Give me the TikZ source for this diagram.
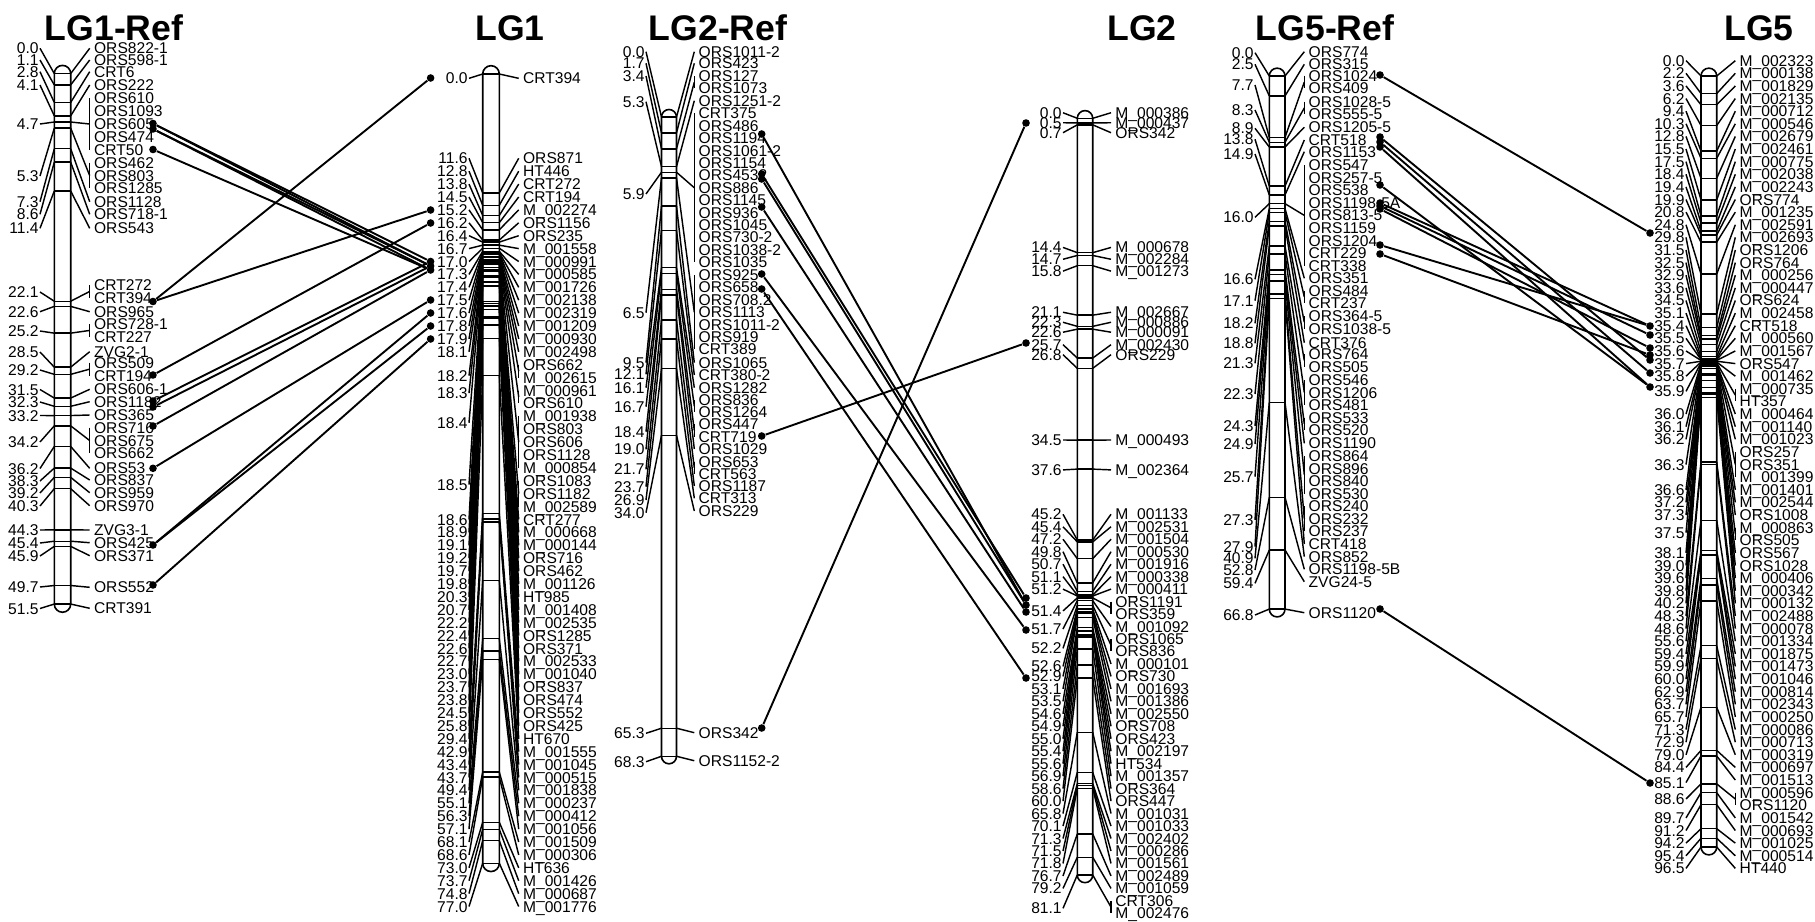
\documentclass[tikz,border=0pt]{standalone}
\usepackage{fontspec}
\setmainfont{Liberation Sans}
\newcount\gc
\newcommand\setchr[9]{\def\cpre{#1}\def\cxL{#2}\def\cxR{#3}\def\cyz{#4}\def\csc{#5}\def\cxN{#6}\def\cxM{#7}\def\cmax{#8}\def\cpitch{#9}}
\newcommand\chrbar{%
  \pgfmathsetmacro\rpx{(\cxR-\cxL)/2}%
  \pgfmathsetmacro\rpt{\rpx*0.5}%
  \pgfmathsetmacro\ytop{\cyz-\rpx}%
  \pgfmathsetmacro\ybot{\cyz+\cmax*\csc+\rpx}%
  \draw[chr,rounded corners=\rpt pt] (\cxL,\ytop) rectangle (\cxR,\ybot);}
\newcommand\grp[4]{%
  \global\advance\gc by 1
  \pgfmathsetmacro\cby{\cyz+#1*\csc}%
  \pgfmathsetmacro\cny{\rowz+(#2)*\rows}%
  \pgfmathsetmacro\cfy{\rowz+(#3)*\rows}%
  \draw[band] (\cxL,\cby) -- (\cxR,\cby);
  \node[num] (\cpre-n\the\gc) at (\cxN,\cny) {#1};
  \draw[con] (\cpre-n\the\gc.east) -- (\cxL,\cby);
  \foreach \nm [count=\k] in {#4} {%
    \pgfmathsetmacro\cyy{\cfy+(\k-1)*\cpitch}%
    \node[nam] (\cpre-m\the\gc-\k) at (\cxM,\cyy) {\nm};
    \xdef\lastk{\k}}%
  \pgfmathsetmacro\cly{\cfy+(\lastk-1)*\cpitch}%
  \pgfmathsetmacro\cmy{(\cfy+\cly)/2}%
  \draw[con] (\cxR,\cby) -- (\cxM-3,\cmy);
  \ifnum\lastk>1 \draw[con] (\cxM-3,\cfy) -- (\cxM-3,\cly);\fi}
\begin{document}
\begin{tikzpicture}[x=0.5pt,y=-0.5pt,
  chr/.style={draw,line width=0.8pt,fill=white},
  band/.style={line width=0.7pt},
  con/.style={line width=0.72pt},
  link/.style={line width=0.95pt},
  num/.style={anchor=east,inner sep=0.5pt,text height=5.5pt,text depth=0pt,font=\fontsize{7.8}{8}\selectfont},
  nam/.style={anchor=west,inner sep=0.5pt,text height=5.5pt,text depth=0pt,font=\fontsize{7.8}{8}\selectfont},
  ttl/.style={anchor=base,inner sep=0pt,font=\fontsize{17.8}{20}\selectfont\bfseries},
  dot/.style={circle,fill,inner sep=0pt,minimum size=3.8pt}]
\useasboundingbox[fill=white] (0,0) rectangle (1815,921);
% titles
\node[ttl] (t1) at (114,40) {LG1-Ref};
\node[ttl] (t2) at (510,40) {LG1};
\node[ttl] (t3) at (718,40) {LG2-Ref};
\node[ttl] (t4) at (1142,40) {LG2};
\node[ttl] (t5) at (1325,40) {LG5-Ref};
\node[ttl] (t6) at (1759,40) {LG5};
% ---------------- LG1-Ref
\setchr{A}{54.3}{70.7}{73.6}{10.30}{40}{92.7}{51.5}{12.86}
\def\rowz{0}\def\rows{1}
\chrbar
\grp{0.0}{48.3}{48.3}{ORS822-1}
\grp{1.1}{60}{60}{ORS598-1}
\grp{2.8}{71.7}{71.7}{CRT6}
\grp{4.1}{85}{85}{ORS222}
\grp{4.7}{124}{98.3}{ORS610,ORS1093,ORS605,ORS474,CRT50}
\grp{5.3}{176}{162.7}{ORS462,ORS803,ORS1285}
\grp{7.3}{201.7}{201.7}{ORS1128}
\grp{8.6}{214.3}{214.3}{ORS718-1}
\grp{11.4}{228.3}{228.3}{ORS543}
\grp{22.1}{292}{285}{CRT272,CRT394}
\grp{22.6}{311.7}{311.7}{ORS965}
\grp{25.2}{331}{324}{ORS728-1,CRT227}
\grp{28.5}{352}{351.7}{ZVG2-1}
\grp{29.2}{370}{362.7}{ORS509,CRT194}
\grp{31.5}{389.5}{389.3}{ORS606-1}
\grp{32.3}{402}{401.7}{ORS1182}
\grp{33.2}{415.5}{415}{ORS365}
\grp{34.2}{442}{427.7}{ORS716,ORS675,ORS662}
\grp{36.2}{468.5}{468.3}{ORS53}
\grp{38.3}{481}{480}{ORS837}
\grp{39.2}{493}{492.7}{ORS959}
\grp{40.3}{506}{505.7}{ORS970}
\grp{44.3}{530}{530}{ZVG3-1}
\grp{45.4}{543}{542.7}{ORS425}
\grp{45.9}{556}{555.7}{ORS371}
\grp{49.7}{587}{587.3}{ORS552}
\grp{51.5}{608.5}{608.3}{CRT391}
% ---------------- LG1
\setchr{B}{482.7}{499.3}{74}{10.25}{469}{521.7}{77.0}{12.9}
\def\rowz{158.3}\def\rows{12.9}
\chrbar
\grp{0.0}{-6.2}{-6.2}{CRT394}
\grp{11.6}{0}{0}{ORS871}
\grp{12.8}{1}{1}{HT446}
\grp{13.8}{2}{2}{CRT272}
\grp{14.5}{3}{3}{CRT194}
\grp{15.2}{4}{4}{M\_002274}
\grp{16.2}{5}{5}{ORS1156}
\grp{16.4}{6}{6}{ORS235}
\grp{16.7}{7}{7}{M\_001558}
\grp{17.0}{8}{8}{M\_000991}
\grp{17.3}{9}{9}{M\_000585}
\grp{17.4}{10}{10}{M\_001726}
\grp{17.5}{11}{11}{M\_002138}
\grp{17.6}{12}{12}{M\_002319}
\grp{17.8}{13}{13}{M\_001209}
\grp{17.9}{14}{14}{M\_000930}
\grp{18.1}{15}{15}{M\_002498}
\grp{18.2}{16.85}{16}{ORS662,M\_002615}
\grp{18.3}{18.2}{18}{M\_000961,ORS610}
\grp{18.4}{20.5}{20}{M\_001938,ORS803,ORS606,ORS1128,M\_000854}
\grp{18.5}{25.3}{25}{ORS1083,ORS1182,M\_002589}
\grp{18.6}{28}{28}{CRT277}
\grp{18.9}{29}{29}{M\_000668}
\grp{19.1}{30}{30}{M\_000144}
\grp{19.2}{31}{31}{ORS716}
\grp{19.7}{32}{32}{ORS462}
\grp{19.8}{33}{33}{M\_001126}
\grp{20.3}{34}{34}{HT985}
\grp{20.7}{35}{35}{M\_001408}
\grp{22.2}{36}{36}{M\_002535}
\grp{22.4}{37}{37}{ORS1285}
\grp{22.6}{38}{38}{ORS371}
\grp{22.7}{39}{39}{M\_002533}
\grp{23.0}{40}{40}{M\_001040}
\grp{23.7}{41}{41}{ORS837}
\grp{23.8}{42}{42}{ORS474}
\grp{24.5}{43}{43}{ORS552}
\grp{25.8}{44}{44}{ORS425}
\grp{29.4}{45}{45}{HT670}
\grp{42.9}{46}{46}{M\_001555}
\grp{43.4}{47}{47}{M\_001045}
\grp{43.7}{48}{48}{M\_000515}
\grp{49.4}{49}{49}{M\_001838}
\grp{55.1}{50}{50}{M\_000237}
\grp{56.3}{51}{51}{M\_000412}
\grp{57.1}{52}{52}{M\_001056}
\grp{68.1}{53}{53}{M\_001509}
\grp{68.6}{54}{54}{M\_000306}
\grp{73.0}{55}{55}{HT636}
\grp{73.7}{56}{56}{M\_001426}
\grp{74.8}{57}{57}{M\_000687}
\grp{77.0}{58}{58}{M\_001776}
% ---------------- LG2-Ref
\setchr{C}{661.5}{676.5}{117}{9.36}{646}{697.3}{68.3}{12.41}
\def\rowz{0}\def\rows{1}
\chrbar
\grp{0.0}{51.7}{51.7}{ORS1011-2}
\grp{1.7}{63.3}{63.3}{ORS423}
\grp{3.4}{76}{76}{ORS127,ORS1073}
\grp{5.3}{101.7}{100.7}{ORS1251-2}
\grp{5.9}{194}{113.3}{CRT375,ORS486,ORS1194,ORS1061-2,ORS1154,ORS4532,ORS886,ORS1145,ORS936,ORS1045,ORS730-2,ORS1038-2,ORS1035}
\grp{6.5}{312.7}{275}{ORS925,ORS658,ORS708.2,ORS1113,ORS1011-2,ORS919,CRT389}
\grp{9.5}{362.7}{362.7}{ORS1065}
\grp{12.1}{374.3}{375}{CRT380-2}
\grp{16.1}{387.7}{387.7}{ORS1282}
\grp{16.7}{406.7}{400}{ORS836,ORS1264}
\grp{18.4}{431.7}{424.3}{ORS447,CRT719}
\grp{19.0}{449.3}{449}{ORS1029}
\grp{21.7}{469.3}{461.7}{ORS653,CRT563}
\grp{23.7}{486.7}{486}{ORS1187}
\grp{26.9}{500}{498.3}{CRT313}
\grp{34.0}{512.7}{511}{ORS229}
\grp{65.3}{733.3}{732.7}{ORS342}
\grp{68.3}{761.7}{760.7}{ORS1152-2}
% ---------------- LG2
\setchr{D}{1077.3}{1092.7}{118.3}{9.33}{1063}{1114}{81.1}{12.47}
\def\rowz{551.7}\def\rows{12.47}
\chrbar
\grp{0.0}{-35.2}{-35.2}{M\_000386}
\grp{0.5}{-34.4}{-34.4}{M\_000437}
\grp{0.7}{-33.6}{-33.6}{ORS342}
\grp{14.4}{-24.4}{-24.4}{M\_000678}
\grp{14.7}{-23.45}{-23.45}{M\_002284}
\grp{15.8}{-22.5}{-22.5}{M\_001273}
\grp{21.1}{-19.2}{-19.2}{M\_002667}
\grp{22.3}{-18.4}{-18.4}{M\_000886}
\grp{22.6}{-17.6}{-17.6}{M\_000091}
\grp{25.7}{-16.6}{-16.6}{M\_002430}
\grp{26.8}{-15.8}{-15.8}{ORS229}
\grp{34.5}{-8.96}{-8.96}{M\_000493}
\grp{37.6}{-6.56}{-6.56}{M\_002364}
\grp{45.2}{-3}{-3}{M\_001133}
\grp{45.4}{-2}{-2}{M\_002531}
\grp{47.2}{-1}{-1}{M\_001504}
\grp{49.8}{0}{0}{M\_000530}
\grp{50.7}{1}{1}{M\_001916}
\grp{51.1}{2}{2}{M\_000338}
\grp{51.2}{3}{3}{M\_000411}
\grp{51.4}{4.75}{4}{ORS1191,ORS359}
\grp{51.7}{6.2}{6}{M\_001092}
\grp{52.2}{7.75}{7}{ORS1065,ORS836}
\grp{52.6}{9.2}{9}{M\_000101}
\grp{52.9}{10}{10}{ORS730}
\grp{53.1}{11}{11}{M\_001693}
\grp{53.5}{12}{12}{M\_001386}
\grp{54.6}{13}{13}{M\_002550}
\grp{54.9}{14}{14}{ORS708}
\grp{55.0}{15}{15}{ORS423}
\grp{55.4}{16}{16}{M\_002197}
\grp{55.6}{17}{17}{HT534}
\grp{56.9}{18}{18}{M\_001357}
\grp{58.6}{19}{19}{ORS364}
\grp{60.0}{20}{20}{ORS447}
\grp{65.8}{21}{21}{M\_001031}
\grp{70.1}{22}{22}{M\_001033}
\grp{71.3}{23}{23}{M\_002402}
\grp{71.5}{24}{24}{M\_000286}
\grp{71.8}{25}{25}{M\_001561}
\grp{76.7}{26}{26}{M\_002489}
\grp{79.2}{27}{27}{M\_001059}
\grp{81.1}{28.6}{28}{CRT306,M\_002476}
% ---------------- LG5-Ref
\setchr{E}{1269.3}{1285}{76}{7.98}{1255}{1307.3}{66.8}{12.6}
\def\rowz{0}\def\rows{1}
\chrbar
\grp{0.0}{52.7}{51.7}{ORS774}
\grp{2.5}{64.3}{64.3}{ORS315}
\grp{7.7}{85}{75.7}{ORS1024,ORS409}
\grp{8.3}{110}{101.7}{ORS1028-5,ORS555-5}
\grp{8.9}{128.3}{127.3}{ORS1205-5}
\grp{13.8}{139.3}{140}{CRT518}
\grp{14.9}{154}{151.7}{ORS1153}
\grp{16.0}{217.3}{165}{ORS547,ORS257-5,ORS538,ORS1198-5A,ORS813-5,ORS1159,ORS1204,CRT229,CRT338}
\grp{16.6}{279.3}{278.3}{ORS351}
\grp{17.1}{300.7}{290.7}{ORS484,CRT237}
\grp{18.2}{323.3}{316}{ORS364-5,ORS1038-5}
\grp{18.8}{343.3}{342.7}{CRT376}
\grp{21.3}{363.3}{354.3}{ORS764,ORS505}
\grp{22.3}{394}{380}{ORS546,ORS1206,ORS481}
\grp{24.3}{426}{417.7}{ORS533,ORS520}
\grp{24.9}{444}{443.3}{ORS1190}
\grp{25.7}{476.7}{456}{ORS864,ORS896,ORS840,ORS530}
\grp{27.3}{520}{506}{ORS240,ORS232,ORS237}
\grp{27.9}{546.7}{544}{CRT418}
\grp{40.9}{558.3}{556.7}{ORS852}
\grp{52.8}{570}{569.3}{ORS1198-5B}
\grp{59.4}{583.3}{581.7}{ZVG24-5}
\grp{66.8}{615}{612.7}{ORS1120}
% ---------------- LG5
\setchr{F}{1701}{1716.7}{76}{7.99}{1686}{1738.3}{96.5}{12.62}
\def\rowz{60.7}\def\rows{12.62}
\chrbar
\grp{0.0}{0}{0}{M\_002323}
\grp{2.2}{1}{1}{M\_000138}
\grp{3.6}{2}{2}{M\_001829}
\grp{6.2}{3}{3}{M\_002135}
\grp{9.4}{4}{4}{M\_000712}
\grp{10.3}{5}{5}{M\_000546}
\grp{12.8}{6}{6}{M\_002679}
\grp{15.5}{7}{7}{M\_002461}
\grp{17.5}{8}{8}{M\_000775}
\grp{18.4}{9}{9}{M\_002038}
\grp{19.4}{10}{10}{M\_002243}
\grp{19.9}{11}{11}{ORS774}
\grp{20.8}{12}{12}{M\_001235}
\grp{24.8}{13}{13}{M\_002591}
\grp{29.8}{14}{14}{M\_002693}
\grp{31.5}{15}{15}{ORS1206}
\grp{32.5}{16}{16}{ORS764}
\grp{32.9}{17}{17}{M\_000256}
\grp{33.6}{18}{18}{M\_000447}
\grp{34.5}{19}{19}{ORS624}
\grp{35.1}{20}{20}{M\_002458}
\grp{35.4}{21}{21}{CRT518}
\grp{35.5}{22}{22}{M\_000560}
\grp{35.6}{23}{23}{M\_001567}
\grp{35.7}{24}{24}{ORS547}
\grp{35.8}{25}{25}{M\_001462}
\grp{35.9}{26.2}{26}{M\_000735,HT357}
\grp{36.0}{28}{28}{M\_000464}
\grp{36.1}{29}{29}{M\_001140}
\grp{36.2}{30}{30}{M\_001023}
\grp{36.3}{32}{31}{ORS257,ORS351,M\_001399}
\grp{36.6}{34}{34}{M\_001401}
\grp{37.2}{35}{35}{M\_002544}
\grp{37.3}{36}{36}{ORS1008}
\grp{37.5}{37.4}{37}{M\_000863,ORS505}
\grp{38.1}{39}{39}{ORS567}
\grp{39.0}{40}{40}{ORS1028}
\grp{39.6}{41}{41}{M\_000406}
\grp{39.8}{42}{42}{M\_000342}
\grp{40.2}{43}{43}{M\_000132}
\grp{48.3}{44}{44}{M\_002488}
\grp{48.6}{45}{45}{M\_000078}
\grp{55.6}{46}{46}{M\_001334}
\grp{59.4}{47}{47}{M\_001875}
\grp{59.9}{48}{48}{M\_001473}
\grp{60.0}{49}{49}{M\_001046}
\grp{62.9}{50}{50}{M\_000814}
\grp{63.7}{51}{51}{M\_002343}
\grp{65.7}{52}{52}{M\_000250}
\grp{71.3}{53}{53}{M\_000086}
\grp{72.9}{54}{54}{M\_000713}
\grp{79.0}{55}{55}{M\_000319}
\grp{84.4}{56}{56}{M\_000697}
\grp{85.1}{57.2}{57}{M\_001513}
\grp{88.6}{58.5}{58}{M\_000596,ORS1120}
\grp{89.7}{60}{60}{M\_001542}
\grp{91.2}{61}{61}{M\_000693}
\grp{94.2}{62}{62}{M\_001025}
\grp{95.4}{63}{63}{M\_000514}
\grp{96.5}{64}{64}{HT440}
% ---------------- connection dots
\foreach \n/\y in {a1/123.5,a2/129,a3/149.5,a4/301.5,a5/375,a6/401,a7/407,a8/426,a9/468.3,a10/545,a11/585}
  \node[dot] (\n) at (153,\y) {};
\foreach \n/\y in {b0/78,b1/210,b2/223,b3/261.5,b4/266,b5/270,b6/300,b7/313,b8/326,b9/339}
  \node[dot] (\n) at (430.6,\y) {};
\foreach \n/\y in {f1/134,f2/174,f3/179,f4/207,f5/274,f6/289,f7/436,f8/728}
  \node[dot] (\n) at (761.7,\y) {};
\foreach \n/\y in {e1/123,e2/343,e3/598,e4/605,e5/612,e6/630,e7/678}
  \node[dot] (\n) at (1026,\y) {};
\foreach \n/\y in {h1/75,h2/137,h3/142,h4/147,h5/185,h6/203,h7/206,h8/209,h9/245,h10/254,h11/609}
  \node[dot] (\n) at (1380,\y) {};
\foreach \n/\y in {g1/233,g2/326,g3/335,g4/348,g5/355,g6/360,g7/373,g8/387,g9/783}
  \node[dot] (\n) at (1650,\y) {};
% ---------------- links
\foreach \p/\q in {a4/b0,a4/b1,a5/b2,a1/b3,a1/b4,a2/b4,a2/b5,a3/b5,a6/b3,a7/b4,a8/b5,a9/b6,a10/b7,a10/b8,a11/b9}
  \draw[link] (\p) -- (\q);
\foreach \p/\q in {f8/e1,f7/e2,f1/e4,f2/e3,f3/e4,f4/e5,f5/e6,f6/e7}
  \draw[link] (\p) -- (\q);
\foreach \p/\q in {h1/g1,h2/g6,h3/g7,h4/g8,h6/g2,h7/g3,h8/g4,h9/g2,h10/g5,h5/g8,h11/g9}
  \draw[link] (\p) -- (\q);
\end{tikzpicture}
\end{document}
